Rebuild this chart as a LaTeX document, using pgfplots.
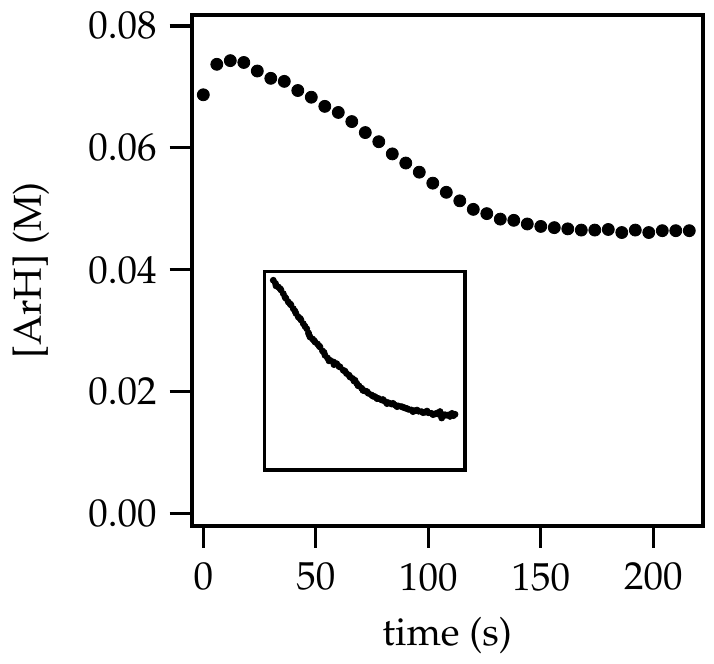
\documentclass[border=0pt]{standalone}
\usepackage[T1]{fontenc}
\usepackage{mathpazo}
\usepackage{pgfplots}
\pgfplotsset{compat=1.18}
\usepackage{pgfplotstable}
\pgfplotstableread{
t y
0 0.0687
6 0.0737
12 0.0743
18 0.0740
24 0.0726
30 0.0714
36 0.0709
42 0.0694
48 0.0683
54 0.0668
60 0.0658
66 0.0643
72 0.0625
78 0.0610
84 0.0590
90 0.0575
96 0.0560
102 0.0542
108 0.0527
114 0.0513
120 0.0499
126 0.0492
132 0.0483
138 0.0481
144 0.0475
150 0.0471
156 0.0469
162 0.0467
168 0.0465
174 0.0465
180 0.0466
186 0.0461
192 0.0465
198 0.0461
204 0.0464
210 0.0464
216 0.0464
}\maindata
\pgfplotstableread{
x y
273.3 -280.3
275.5 -283.5
276.0 -285.8
278.3 -287.0
280.0 -288.6
281.0 -290.0
283.3 -293.7
285.0 -297.2
286.0 -298.5
288.3 -302.0
290.0 -303.8
291.0 -305.0
293.3 -308.7
295.0 -311.2
296.0 -313.5
298.3 -317.0
300.0 -318.4
301.0 -320.0
303.3 -323.7
305.0 -326.3
306.7 -328.7
308.5 -333.0
309.0 -334.6
310.0 -337.0
312.5 -339.0
314.0 -340.5
315.0 -342.0
317.5 -344.0
319.0 -345.8
320.0 -347.0
322.5 -351.0
324.0 -352.4
325.0 -355.3
327.5 -358.0
329.0 -360.8
330.0 -360.3
333.5 -362.0
334.0 -364.6
336.7 -363.7
339.0 -366.4
340.0 -367.0
343.3 -370.3
345.0 -371.2
346.5 -373.5
349.0 -375.2
350.0 -377.0
352.5 -378.5
354.0 -381.0
355.0 -380.3
356.7 -383.3
358.0 -385.6
359.0 -386.0
361.7 -388.3
363.0 -390.4
365.0 -391.0
367.0 -391.6
368.3 -393.3
371.5 -395.0
373.0 -396.2
375.0 -396.7
377.0 -398.6
378.5 -398.5
381.7 -400.0
383.0 -399.6
385.0 -401.5
387.0 -403.6
388.3 -402.7
391.5 -404.0
393.0 -403.4
395.0 -405.0
397.0 -406.6
398.5 -406.0
401.7 -406.7
403.0 -407.2
405.0 -408.0
407.0 -408.6
408.3 -409.3
411.5 -410.0
413.0 -411.6
415.0 -410.7
417.0 -410.1
418.5 -411.2
421.7 -411.7
423.0 -412.6
425.0 -412.2
427.0 -411.1
428.3 -412.7
431.5 -413.4
433.0 -414.6
435.0 -414.0
437.0 -413.1
438.5 -414.2
440.0 -411.6
441.7 -414.3
441.7 -418.0
443.0 -415.6
445.0 -414.8
446.0 -415.2
448.3 -415.0
450.0 -416.4
451.5 -414.5
452.0 -413.4
453.5 -415.6
455.0 -414.3
}\insetdata
\begin{document}
\begin{tikzpicture}
\begin{axis}[
  name=main,
  at={(0,0)}, anchor=south west,
  scale only axis,
  width=255.5pt, height=255.5pt,
  xmin=-5.16, xmax=221.96,
  ymin=-0.00205, ymax=0.08179,
  xtick={0,50,100,150,200},
  ytick={0,0.02,0.04,0.06,0.08},
  scaled y ticks=false,
  yticklabel style={/pgf/number format/.cd, fixed, fixed zerofill, precision=2},
  xtick pos=bottom, ytick pos=left,
  tick align=outside,
  major tick length=11pt,
  xticklabel shift=4pt,
  yticklabel shift=3pt,
  every tick/.style={line width=1.6pt, black},
  axis line style={line width=1.9pt},
  tick label style={font=\fontsize{19.5}{23}\selectfont},
  label style={font=\fontsize{19.5}{23}\selectfont},
  xlabel={time (s)},
  ylabel={[ArH] (M)},
  xlabel style={at={(axis description cs:0.5,-0.2329)}, anchor=base},
  ylabel style={at={(axis description cs:-0.295,0.5)}, anchor=base, rotate=0},
]
\addplot[only marks, mark=*, mark size=3pt, black] table[x=t, y=y] {\maindata};
\end{axis}
\begin{axis}[
  at={(36.3pt,28pt)}, anchor=south west,
  scale only axis,
  width=100.35pt, height=99.15pt,
  xmin=264.3, xmax=465, ymin=-470, ymax=-271.7,
  xtick=\empty, ytick=\empty,
  axis line style={line width=1.6pt},
  axis background/.style={fill=white},
]
\addplot[only marks, mark=*, mark size=1.5pt, black] table[x=x, y=y] {\insetdata};
\end{axis}
\pgfresetboundingbox
\useasboundingbox (-95.85pt,-69pt) rectangle (261.15pt,263pt);
\end{tikzpicture}
\end{document}
